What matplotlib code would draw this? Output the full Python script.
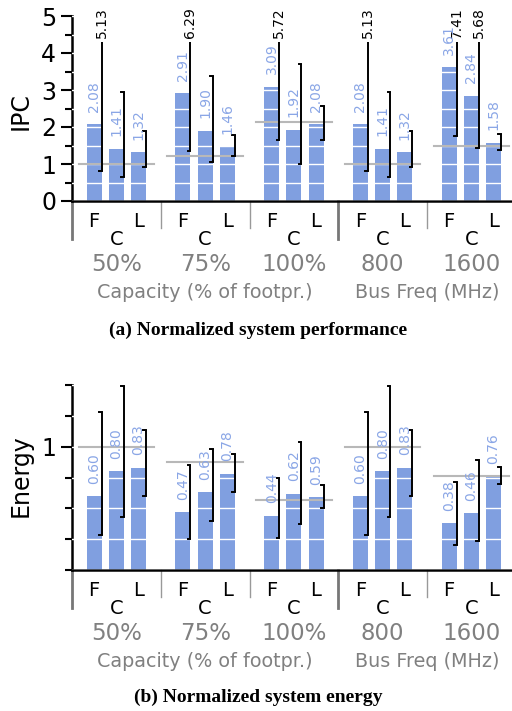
import matplotlib
matplotlib.use('Agg')
import matplotlib.pyplot as plt
import numpy as np

groups = ['50%', '75%', '100%', '800', '1600']
configs = ['F', 'C', 'L']
sections = ['Capacity (% of footpr.)', 'Bus Freq (MHz)']

ipc = [[2.08, 1.41, 1.32], [2.91, 1.90, 1.46], [3.09, 1.92, 2.08],
       [2.08, 1.41, 1.32], [3.61, 2.84, 1.58]]
ipc_lo = [[0.82, 0.66, 0.92], [1.35, 1.05, 1.21], [1.66, 1.00, 1.66],
          [0.82, 0.66, 0.92], [1.75, 1.42, 1.39]]
ipc_hi = [[5.13, 2.95, 1.88], [6.29, 3.37, 1.78], [5.72, 3.71, 2.57],
          [5.13, 2.95, 1.88], [7.41, 5.68, 1.81]]
ipc_ref = [1.0, 1.21, 2.13, 1.0, 1.48]

energy = [[0.60, 0.80, 0.83], [0.47, 0.63, 0.78], [0.44, 0.62, 0.59],
          [0.60, 0.80, 0.83], [0.38, 0.46, 0.76]]
energy_lo = [[0.28, 0.43, 0.60], [0.25, 0.40, 0.635], [0.26, 0.37, 0.50],
             [0.28, 0.43, 0.60], [0.20, 0.235, 0.695]]
energy_hi = [[1.28, 1.49, 1.135], [0.85, 0.98, 0.94], [0.75, 1.04, 0.69],
             [1.28, 1.49, 1.135], [0.71, 0.89, 0.835]]
energy_ref = [1.0, 0.873, 0.568, 1.0, 0.76]

BAR = '#809fe0'
LABEL_BLUE = '#8aa6e6'
GRAY = '#808080'
REF = '#b8b8b8'


def draw_panel(ax, vals, lo, hi, ref, ymax, yticks, yminor, ylabels, tick_fs):
    width = 0.68
    vals = np.array(vals)
    ngroups = len(vals)
    for g in range(ngroups):
        base = 4 * g
        xs = base + np.arange(1, 4)
        ax.bar(xs, vals[g], width=width, color=BAR, zorder=1)
        # reference line of the group
        ax.plot([base + 0.3, base + 3.7], [ref[g], ref[g]], color=REF, lw=1.5, zorder=3)
        for i, x in enumerate(xs):
            ex = x + width / 2
            top = hi[g][i]
            clipped = top > ymax
            if clipped:
                top = ymax - 0.7
            ax.plot([ex, ex], [lo[g][i], top], color='black', lw=1.4, zorder=4,
                    solid_capstyle='butt')
            ax.plot([ex - 0.12, ex], [lo[g][i], lo[g][i]], color='black', lw=1.4, zorder=4)
            if not clipped:
                ax.plot([ex - 0.12, ex], [top, top], color='black', lw=1.4, zorder=4)
            else:
                ax.text(ex, ymax - 0.6, f'{hi[g][i]:.2f}', rotation=90, ha='center',
                        va='bottom', fontsize=10, color='black', clip_on=False, zorder=5)
            ax.annotate(f'{vals[g][i]:.2f}', xy=(x, vals[g][i]), xytext=(0, 9),
                        textcoords='offset points', rotation=90, ha='center',
                        va='bottom', fontsize=10, color=LABEL_BLUE, zorder=5,
                        annotation_clip=False)
            # x tick labels F / C / L
            dy = -28 if configs[i] == 'C' else -15
            ax.annotate(configs[i], xy=(x, 0), xycoords=('data', 'axes fraction'),
                        xytext=(0, dy), textcoords='offset points', ha='center',
                        va='center', fontsize=14, color='black', annotation_clip=False)
        ax.annotate(groups[g], xy=(base + 2, 0), xycoords=('data', 'axes fraction'),
                    xytext=(0, -46), textcoords='offset points', ha='center',
                    va='center', fontsize=16.5, color=GRAY, annotation_clip=False)
        # separators below the axis
        thick = g in (0, 3)
        ax.plot([base, base], [0, -0.205 if thick else -0.146],
                transform=ax.get_xaxis_transform(), clip_on=False,
                color='#777777' if thick else '#999999', lw=2.0 if thick else 1.0)

    ax.annotate(sections[0], xy=(6, 0), xycoords=('data', 'axes fraction'),
                xytext=(0, -66), textcoords='offset points', ha='center',
                va='center', fontsize=13.8, color=GRAY, annotation_clip=False)
    ax.annotate(sections[1], xy=(16, 0), xycoords=('data', 'axes fraction'),
                xytext=(0, -66), textcoords='offset points', ha='center',
                va='center', fontsize=13.8, color=GRAY, annotation_clip=False)

    ax.set_xlim(0, 4 * ngroups)
    ax.set_ylim(0, ymax)
    ax.set_xticks([])
    ax.set_yticks(yticks)
    ax.set_yticklabels(ylabels, fontsize=tick_fs)
    ax.set_yticks(yminor, minor=True)
    ax.tick_params(axis='y', which='major', length=8, width=1.5)
    ax.tick_params(axis='y', which='minor', length=5, width=1.5)
    ax.spines['top'].set_visible(False)
    ax.spines['right'].set_visible(False)
    ax.spines['left'].set_linewidth(1.8)
    ax.spines['bottom'].set_linewidth(1.8)
    ax.set_axisbelow(False)
    ax.yaxis.grid(True, which='both', color='white', lw=1.0)


fig = plt.figure(figsize=(5.12, 7.11), dpi=100)
W, H = 512, 711
left = 72 / W
width = 443.75 / W

ax1 = fig.add_axes([left, 1 - 201 / H, width, 185 / H])
draw_panel(ax1, ipc, ipc_lo, ipc_hi, ipc_ref, 5,
           [0, 1, 2, 3, 4, 5], np.arange(0, 5.01, 0.5),
           ['0', '1', '2', '3', '4', '5'], 17)

ax2 = fig.add_axes([left, 1 - 570 / H, width, 185 / H])
draw_panel(ax2, energy, energy_lo, energy_hi, energy_ref, 1.5,
           [1], np.arange(0, 1.51, 0.25), ['1'], 17)

fig.text(21 / W, 1 - 111 / H, 'IPC', rotation=90, ha='center', va='center', fontsize=17)
fig.text(21 / W, 1 - 476 / H, 'Energy', rotation=90, ha='center', va='center', fontsize=17)

fig.text(258 / W, 1 - 330 / H, '(a) Normalized system performance', ha='center',
         va='center', fontsize=14, fontweight='bold', family='Liberation Serif')
fig.text(258 / W, 1 - 697 / H, '(b) Normalized system energy', ha='center',
         va='center', fontsize=14, fontweight='bold', family='Liberation Serif')

fig.savefig('out.png', dpi=100)
